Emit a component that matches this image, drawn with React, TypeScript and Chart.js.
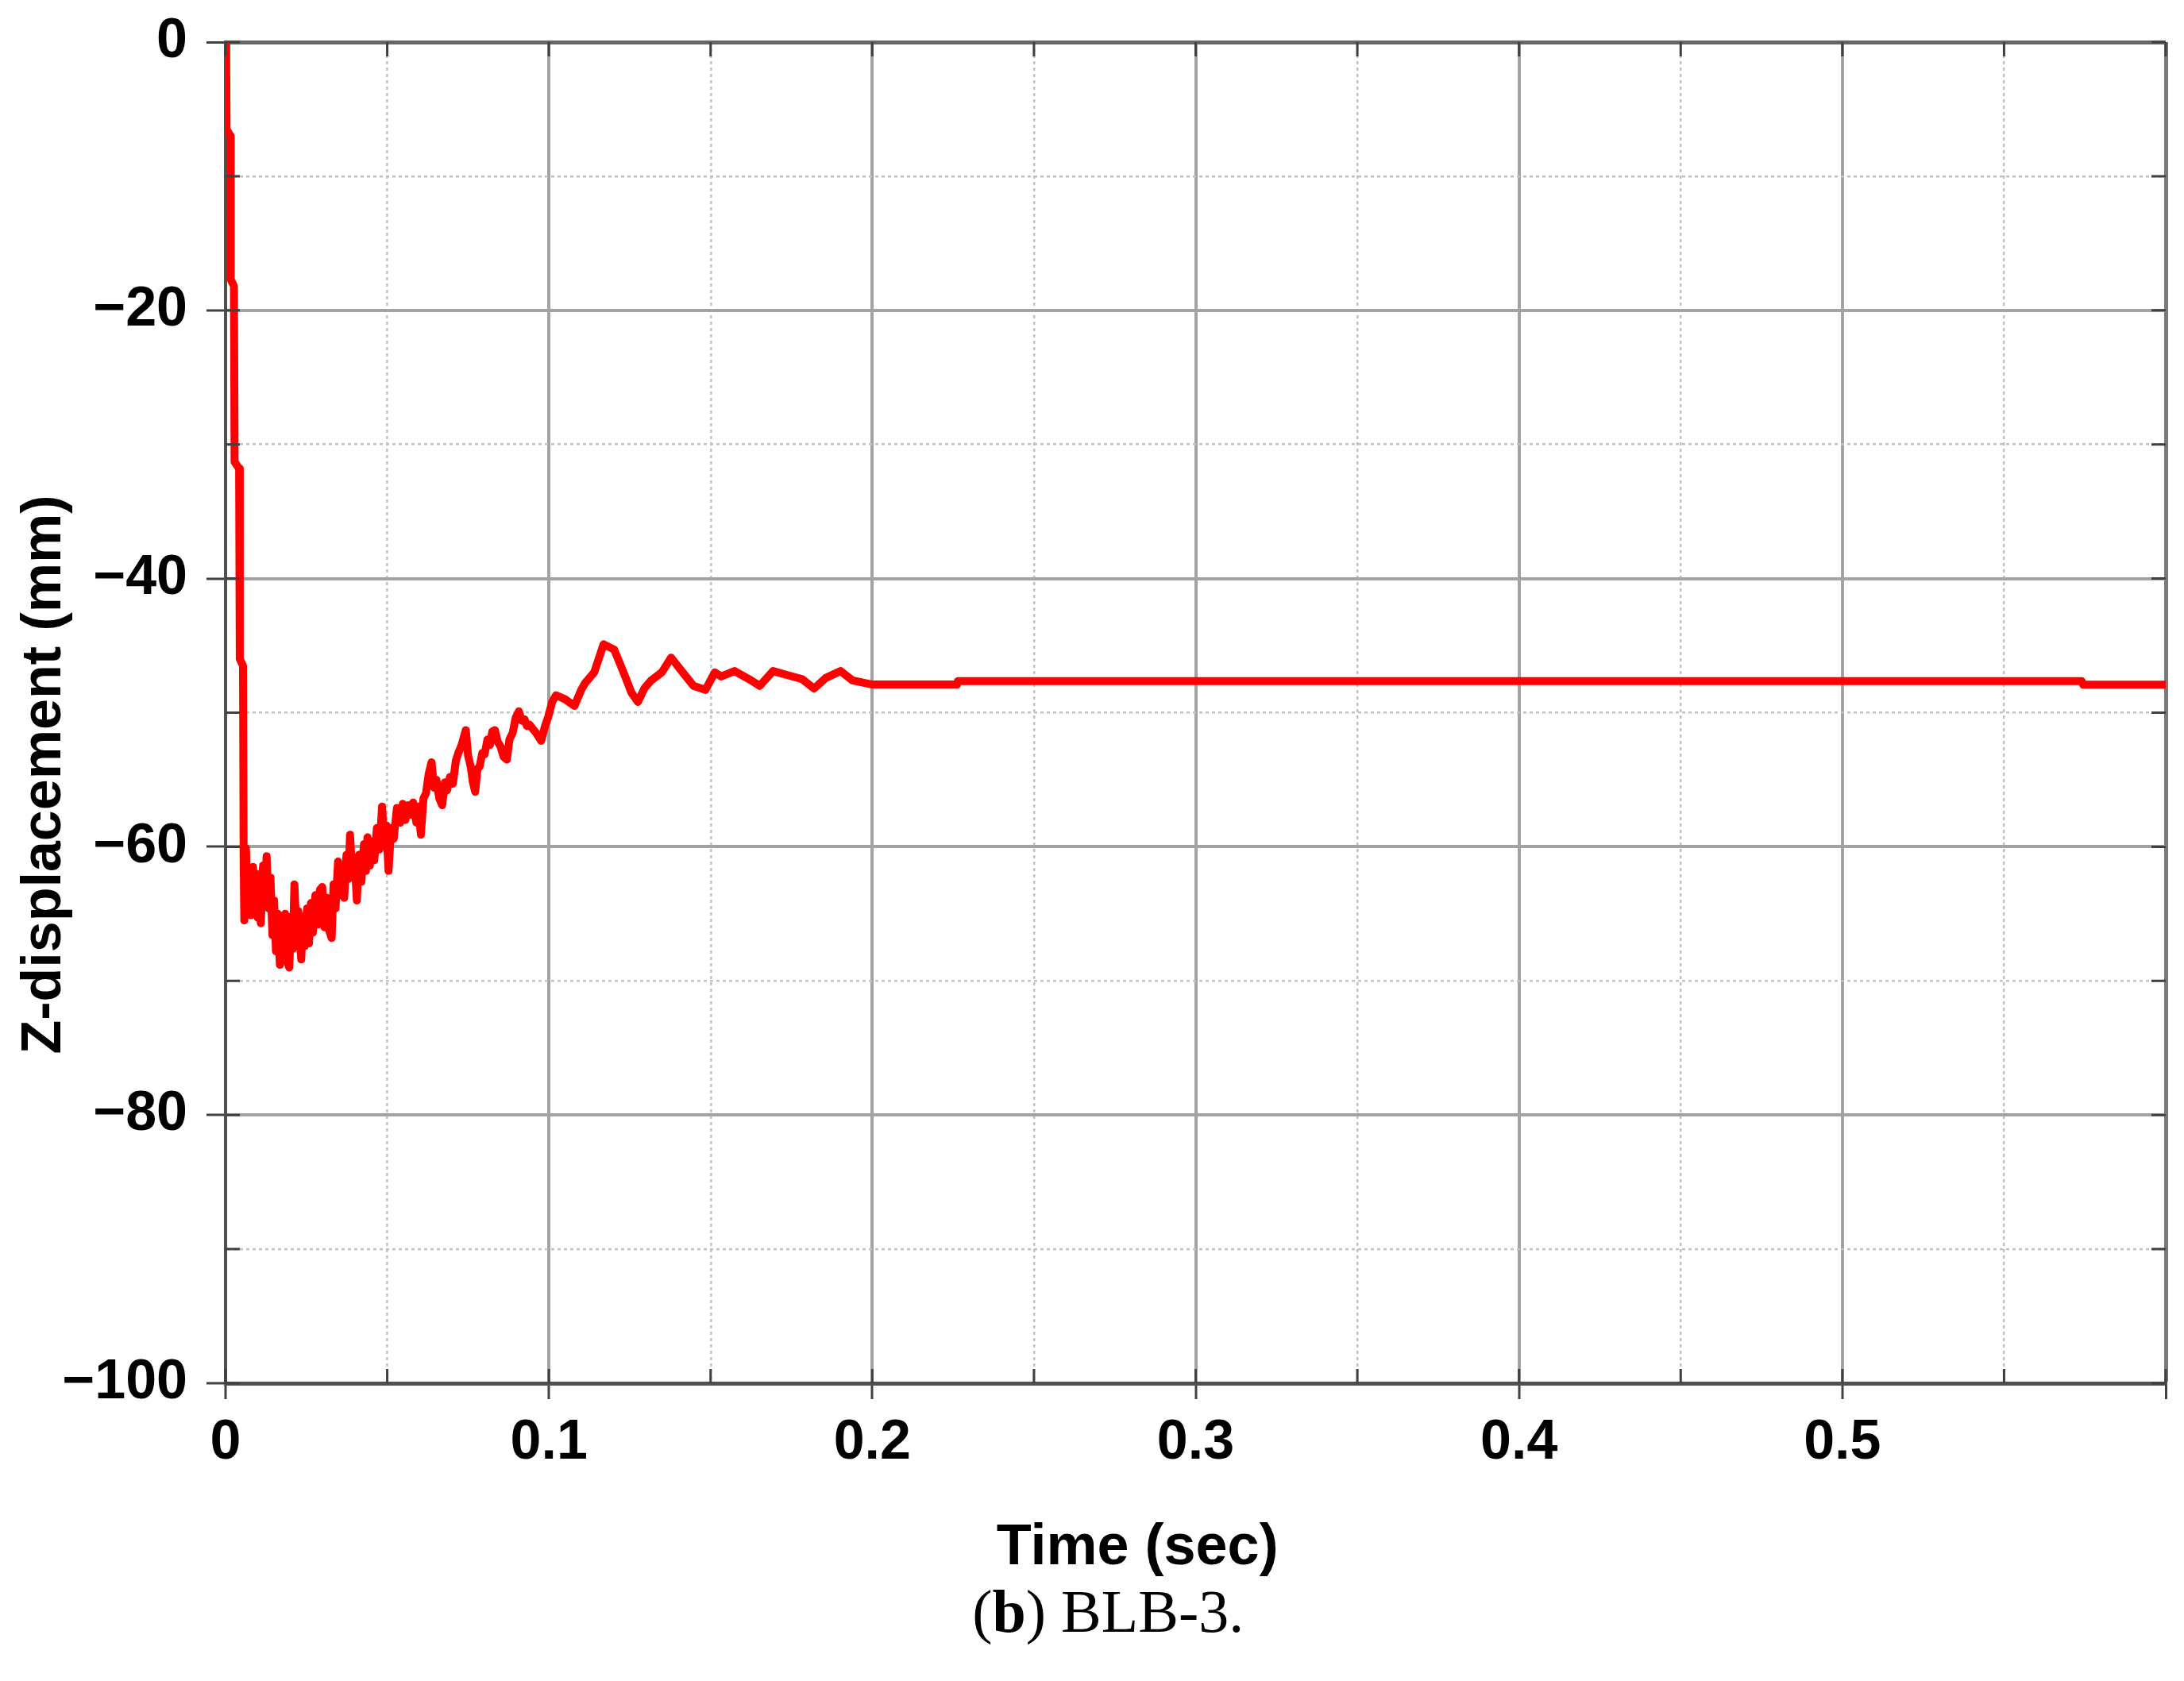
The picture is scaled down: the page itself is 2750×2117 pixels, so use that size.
import React, { useEffect, useRef } from 'react';
import { Chart, registerables } from 'chart.js';

Chart.register(...registerables);

// ---- Data ----
const timeSec: number[] = [
  0, 0.0002, 0.0003, 0.0015, 0.0016, 0.0026, 0.0028, 0.0042, 0.0044, 0.0054,
  0.0056, 0.0058, 0.0063, 0.0069, 0.0074, 0.0078, 0.0085, 0.0090, 0.0094, 0.0100,
  0.0104, 0.0109, 0.0116, 0.0121, 0.0127, 0.0133, 0.0139, 0.0145, 0.0150, 0.0156,
  0.0161, 0.0168, 0.0173, 0.0178, 0.0184, 0.0190, 0.0197, 0.0203, 0.0208, 0.0213,
  0.0219, 0.0225, 0.0234, 0.0240, 0.0245, 0.0252, 0.0258, 0.0264, 0.0270, 0.0278,
  0.0285, 0.0292, 0.0299, 0.0306, 0.0312, 0.0320, 0.0328, 0.0334, 0.0340, 0.0348,
  0.0354, 0.0360, 0.0367, 0.0374, 0.0380, 0.0385, 0.0392, 0.0399, 0.0406, 0.0413,
  0.0420, 0.0428, 0.0434, 0.0439, 0.0446, 0.0452, 0.0460, 0.0468, 0.0476, 0.0484,
  0.0491, 0.0497, 0.0504, 0.0512, 0.0520, 0.0530, 0.0540, 0.0548, 0.0556, 0.0565,
  0.0572, 0.0580, 0.0590, 0.0597, 0.0604, 0.0612, 0.0620, 0.0628, 0.0637, 0.0645,
  0.0652, 0.0661, 0.0670, 0.0678, 0.0685, 0.0694, 0.0703, 0.0712, 0.0720, 0.0730,
  0.0743, 0.0750, 0.0758, 0.0765, 0.0772, 0.0779, 0.0786, 0.0794, 0.0801, 0.0810,
  0.0818, 0.0825, 0.0833, 0.0842, 0.0850, 0.0860, 0.0870, 0.0878, 0.0888, 0.0897,
  0.0907, 0.0916, 0.0925, 0.0932, 0.0940, 0.0950, 0.0960, 0.0968, 0.0976, 0.0988,
  0.0998, 0.1010, 0.1022, 0.1050, 0.1079, 0.1100, 0.1112, 0.1140, 0.1169, 0.1202,
  0.1234, 0.1255, 0.1275, 0.1295, 0.1316, 0.1349, 0.1378, 0.1414, 0.1447, 0.1484,
  0.1513, 0.1533, 0.1574, 0.1619, 0.1652, 0.1693, 0.1738, 0.1783, 0.1820, 0.1857,
  0.1902, 0.1939, 0.2000, 0.2262, 0.2265, 0.5740, 0.5745, 0.6000,
];

const zDisplacementMm: number[] = [
  0, -0.5, -6.5, -7, -17.7, -18.2, -31.3, -31.8, -46, -46.5,
  -61, -65.5, -60.1, -64.8, -61.8, -65.1, -61.5, -63.8, -62.0, -65.3,
  -62.6, -65.7, -61.4, -63.9, -60.7, -64.6, -62.3, -66.6, -64.0, -67.8,
  -65.0, -68.8, -65.6, -68.2, -65.0, -68.5, -69.0, -65.2, -67.6, -62.8,
  -66.4, -64.8, -68.4, -65.2, -67.4, -64.6, -67.2, -64.2, -66.4, -63.6,
  -65.8, -63.2, -63.0, -66.0, -63.8, -66.2, -66.8, -62.8, -64.6, -61.1,
  -63.6, -61.8, -63.8, -60.6, -62.4, -59.1, -62.2, -60.8, -64.0, -60.6,
  -62.6, -59.8, -61.8, -59.3, -61.4, -59.6, -61.0, -58.6, -60.2, -57.0,
  -59.8, -58.4, -61.8, -58.6, -59.4, -57.1, -58.2, -56.8, -58.0, -56.9,
  -57.6, -56.7, -58.2, -57.0, -59.1, -56.4, -56.0, -54.6, -53.7, -55.6,
  -55.0, -56.4, -56.9, -55.2, -55.8, -54.8, -55.3, -53.6, -53.0, -52.4,
  -51.3, -53.2, -54.0, -55.2, -55.9, -54.2, -54.0, -53.0, -53.1, -52.0,
  -52.4, -51.4, -51.3, -52.2, -52.5, -53.3, -53.5, -52.0, -51.5, -50.4,
  -49.9, -50.6, -50.5, -51.0, -50.9, -51.2, -51.5, -51.8, -52.1, -51.0,
  -50.3, -49.2, -48.7, -49.0, -49.5, -48.3, -47.8, -47.0, -44.9, -45.3,
  -47.2, -48.5, -49.2, -48.2, -47.6, -47.0, -45.9, -47.0, -48.0, -48.3,
  -47.0, -47.3, -46.9, -47.5, -48.0, -46.9, -47.2, -47.5, -48.2, -47.4,
  -46.9, -47.6, -47.9, -47.9, -47.65, -47.65, -47.92, -47.92,
];

const xMajorTickLabels: string[] = ['0', '0.1', '0.2', '0.3', '0.4', '0.5'];
const yMajorTickValues: number[] = [0, -20, -40, -60, -80, -100];

const xAxisTitle = 'Time (sec)';
const yAxisTitle = 'Z-displacement (mm)';
const captionBold = 'b';
const captionRest = ') BLB-3.';

// ---- Styles ----
const W = 2750;
const H = 2117;
const TICK_FONT = { family: '"Liberation Sans", Arial, sans-serif', weight: 'bold' as const, size: 70 };
const MAJOR_GRID = '#a3a3a3';
const MINOR_GRID = '#c2c2c2';
const SPINE = '#505050';
const TICK_DARK = '#404040';

const isXMajor = (v: number) => Math.round(v * 100) % 10 === 0;
const isYMajor = (v: number) => Math.round(v) % 20 === 0;

// short inward tick marks on all four sides of the frame
const innerTicksPlugin = {
  id: 'innerTicks',
  afterDatasetsDraw(chart: any) {
    const { ctx, chartArea: ca, scales } = chart;
    const len = 18;
    ctx.save();
    ctx.strokeStyle = TICK_DARK;
    ctx.lineWidth = 3;
    ctx.beginPath();
    scales.x.ticks.forEach((t: any) => {
      const px = scales.x.getPixelForValue(t.value);
      ctx.moveTo(px, ca.bottom);
      ctx.lineTo(px, ca.bottom - len);
      ctx.moveTo(px, ca.top);
      ctx.lineTo(px, ca.top + len);
    });
    scales.y.ticks.forEach((t: any) => {
      const py = scales.y.getPixelForValue(t.value);
      ctx.moveTo(ca.left, py);
      ctx.lineTo(ca.left + len, py);
      ctx.moveTo(ca.right, py);
      ctx.lineTo(ca.right - len, py);
    });
    ctx.stroke();
    ctx.restore();
  },
};

const titlesPlugin = {
  id: 'figureTexts',
  afterDraw(chart: any) {
    const { ctx, chartArea } = chart;
    const ca = chartArea;
    ctx.save();
    ctx.fillStyle = '#000';
    ctx.font = 'bold 72px "Liberation Sans", Arial, sans-serif';
    ctx.textAlign = 'center';
    ctx.textBaseline = 'middle';
    // x-axis title
    const xTitleX = ca.left + (ca.right - ca.left) * 0.47;
    ctx.fillText(xAxisTitle, xTitleX, ca.bottom + 208);
    // y-axis title
    ctx.save();
    ctx.translate(57, (ca.top + ca.bottom) / 2 + 78);
    ctx.rotate(-Math.PI / 2);
    ctx.font = 'bold 70px "Liberation Sans", Arial, sans-serif';
    ctx.fillText(yAxisTitle, 0, 0);
    ctx.restore();
    // caption "(b) BLB-3."
    const capY = ca.bottom + 293;
    const serif = '"Liberation Serif", "DejaVu Serif", serif';
    const size = 76;
    ctx.textAlign = 'left';
    ctx.font = `${size}px ${serif}`;
    const w1 = ctx.measureText('(').width;
    const w3 = ctx.measureText(captionRest).width;
    ctx.font = `bold ${size}px ${serif}`;
    const w2 = ctx.measureText(captionBold).width;
    const total = w1 + w2 + w3;
    let x = xTitleX - 37 - total / 2;
    ctx.font = `${size}px ${serif}`;
    ctx.fillText('(', x, capY);
    x += w1;
    ctx.font = `bold ${size}px ${serif}`;
    ctx.fillText(captionBold, x, capY);
    x += w2;
    ctx.font = `${size}px ${serif}`;
    ctx.fillText(captionRest, x, capY);
    ctx.restore();
  },
};

export default function App() {
  const canvasRef = useRef<HTMLCanvasElement | null>(null);

  useEffect(() => {
    document.body.style.margin = '0';
    const canvas = canvasRef.current;
    if (!canvas) return;
    const points = timeSec.map((t, i) => ({ x: t, y: zDisplacementMm[i] }));

    const chart = new Chart(canvas, {
      type: 'line',
      data: {
        datasets: [
          {
            label: 'BLB-3',
            data: points,
            borderColor: '#ff0000',
            backgroundColor: '#ff0000',
            borderWidth: 10,
            pointRadius: 0,
            tension: 0,
            borderJoinStyle: 'round',
            borderCapStyle: 'round',
            fill: false,
          },
        ],
      },
      options: {
        animation: false,
        responsive: false,
        devicePixelRatio: 1,
        layout: { padding: { left: 0, right: 23, top: 53, bottom: 255 } },
        plugins: {
          legend: { display: false },
          tooltip: { enabled: false },
          title: { display: false },
        },
        scales: {
          x: {
            type: 'linear',
            min: 0,
            max: 0.6,
            afterFit: (scale: any) => {
              scale.height = 120;
              scale.paddingLeft = 0;
              scale.paddingRight = 0;
            },
            ticks: {
              stepSize: 0.05,
              autoSkip: false,
              maxRotation: 0,
              minRotation: 0,
              padding: 14,
              color: '#000',
              font: TICK_FONT,
              callback: (value: any) => {
                const k = Math.round(Number(value) * 100);
                if (k % 10 !== 0) return '';
                const idx = k / 10;
                return idx < xMajorTickLabels.length ? xMajorTickLabels[idx] : '';
              },
            },
            grid: {
              color: (ctx: any) => {
                const v = ctx.tick ? ctx.tick.value : 0;
                const k = Math.round(v * 100);
                if (k === 0) return SPINE;
                if (k === 60) return '#7a7a7a';
                return isXMajor(v) ? MAJOR_GRID : MINOR_GRID;
              },
              lineWidth: (ctx: any) => {
                const v = ctx.tick ? ctx.tick.value : 0;
                const k = Math.round(v * 100);
                if (k === 60) return 5;
                return isXMajor(v) ? 4 : 2.5;
              },
              tickColor: (ctx: any) => {
                const v = ctx.tick ? ctx.tick.value : 0;
                return isXMajor(v) ? TICK_DARK : 'rgba(0,0,0,0)';
              },
              tickLength: 20,
              tickWidth: 3,
            },
            border: {
              display: true,
              color: SPINE,
              width: 5,
              dash: (ctx: any) => {
                if (!ctx.tick) return [];
                return isXMajor(ctx.tick.value) ? [] : [4, 4];
              },
            },
          },
          y: {
            type: 'linear',
            min: -100,
            max: 0,
            afterFit: (scale: any) => {
              scale.width = 284;
              scale.paddingTop = 0;
              scale.paddingBottom = 0;
            },
            ticks: {
              stepSize: 10,
              autoSkip: false,
              padding: 24,
              color: '#000',
              font: TICK_FONT,
              callback: (value: any) => {
                const v = Math.round(Number(value));
                if (!yMajorTickValues.includes(v)) return '';
                return v < 0 ? '\u2212' + String(-v) : String(v);
              },
            },
            grid: {
              color: (ctx: any) => {
                const v = ctx.tick ? Math.round(ctx.tick.value) : 0;
                if (v === 0) return '#666666';
                if (v === -100) return SPINE;
                return isYMajor(v) ? MAJOR_GRID : MINOR_GRID;
              },
              lineWidth: (ctx: any) => {
                const v = ctx.tick ? Math.round(ctx.tick.value) : 0;
                if (v === 0) return 5;
                return isYMajor(v) ? 4 : 2.5;
              },
              tickColor: (ctx: any) => {
                const v = ctx.tick ? Math.round(ctx.tick.value) : 0;
                return isYMajor(v) ? TICK_DARK : 'rgba(0,0,0,0)';
              },
              tickLength: 24,
              tickWidth: 3,
            },
            border: {
              display: true,
              color: SPINE,
              width: 4,
              dash: (ctx: any) => {
                if (!ctx.tick) return [];
                return isYMajor(ctx.tick.value) ? [] : [4, 4];
              },
            },
          },
        },
      },
      plugins: [innerTicksPlugin, titlesPlugin],
    } as any);

    return () => {
      chart.destroy();
    };
  }, []);

  return (
    <div style={{ width: W, height: H, overflow: 'hidden', background: '#fff' }}>
      <canvas ref={canvasRef} width={W} height={H} style={{ display: 'block', width: W, height: H }} />
    </div>
  );
}
